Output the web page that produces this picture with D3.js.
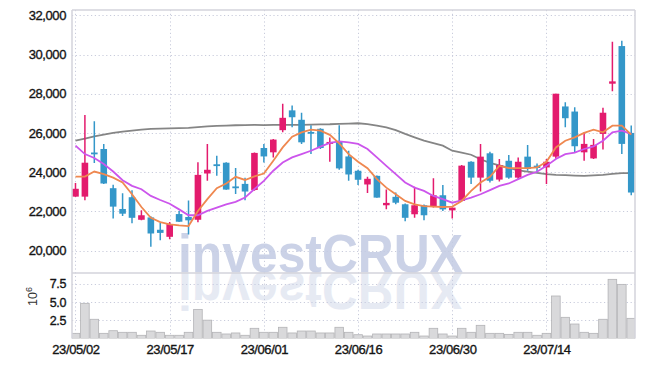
<!DOCTYPE html>
<html>
<head>
<meta charset="UTF-8">
<title>investCRUX - daily candles</title>
<script src="https://cdnjs.cloudflare.com/ajax/libs/d3/7.8.5/d3.min.js"></script>
<style>
  body { margin: 0; background: #fff; }
  svg { display: block; font-family: "Liberation Sans", Arial, sans-serif; }
</style>
</head>
<body>
<script>
// trading days
var dates = ["23/05/02","23/05/03","23/05/04","23/05/08","23/05/09","23/05/10","23/05/11","23/05/12","23/05/15","23/05/16",
  "23/05/17","23/05/18","23/05/19","23/05/22","23/05/23","23/05/24","23/05/25","23/05/26","23/05/30","23/05/31",
  "23/06/01","23/06/02","23/06/05","23/06/07","23/06/08","23/06/09","23/06/12","23/06/13","23/06/14","23/06/15",
  "23/06/16","23/06/19","23/06/20","23/06/21","23/06/22","23/06/23","23/06/26","23/06/27","23/06/28","23/06/29",
  "23/06/30","23/07/03","23/07/04","23/07/05","23/07/06","23/07/07","23/07/10","23/07/11","23/07/12","23/07/13",
  "23/07/14","23/07/17","23/07/18","23/07/19","23/07/20","23/07/21","23/07/24","23/07/25","23/07/26","23/07/27"];

var opens = [22750,22750,25000,25180,23180,22120,22720,21570,21690,21060,
  20700,21860,21710,21570,23930,24400,24480,23270,23400,23090,
  25230,25010,26140,27150,26670,26050,26210,25440,25570,24800,
  24070,23370,23810,22310,22740,22360,21850,22310,22240,22820,
  22050,22530,24530,23720,24960,23620,24580,23720,24790,24330,
  24240,24790,27350,27090,25010,24700,25950,28510,30430,26000];
var highs = [23450,26920,26600,25440,23350,22920,23080,22050,21750,21400,
  21450,22020,22550,24510,25440,24840,24510,24210,23710,25000,
  25440,25690,27490,27400,27030,26390,26240,25760,26390,25090,
  24120,23760,23830,23110,22960,22400,23260,22350,23690,23340,
  22200,24360,24560,25440,25040,24670,24870,24750,25390,24440,
  24670,28000,27560,27310,26030,25690,27280,30650,30700,26380];
var lows = [22750,22560,24460,23400,21640,21760,21390,21550,20190,20530,
  20570,21450,20820,21440,23560,23810,23100,22890,22570,23050,
  24490,24750,26030,26290,25440,24930,25180,24530,24120,23560,
  23340,22930,22690,22100,22360,21500,21670,21540,22190,22020,
  21640,22520,23390,23010,23470,23520,23660,23620,24070,23980,
  23390,24680,26290,25010,24580,24670,25150,28120,24930,22820];
var closes = [23150,24480,24950,23420,22240,21880,21670,21800,20870,20900,
  21350,21470,21540,23860,24120,24350,23110,23230,23010,24980,
  24800,25660,26770,26800,25520,26010,25230,25540,24190,23880,
  23610,23660,22700,22430,22440,21670,22310,21800,22820,22100,
  22190,24330,23720,24790,23560,24360,23720,24530,24160,24210,
  24530,28000,26750,25320,25440,25390,27030,28630,25440,22960];

var volumes = [710000,4830000,2640000,710000,1070000,850000,850000,440000,1030000,850000,
  440000,440000,850000,4000000,2520000,850000,620000,760000,440000,1400000,
  850000,850000,1540000,760000,1030000,1030000,760000,760000,1540000,850000,
  520000,340000,620000,620000,620000,620000,850000,340000,1400000,620000,
  340000,1400000,850000,1810000,710000,710000,570000,850000,850000,440000,
  710000,5840000,2910000,1990000,850000,710000,2640000,8130000,7440000,2770000];

var ma5 = [23770,23770,24030,23900,23720,23470,22870,22220,21670,21450,
  21330,21280,21250,22020,22620,23180,23420,23760,23600,23780,
  23930,24580,25260,25810,26030,26170,26120,25900,25470,24920,
  24530,24200,23640,23210,22870,22530,22360,22270,22240,22220,
  22240,22530,23040,23470,23760,24320,24200,24200,24200,24240,
  24530,25260,25600,25770,26000,26170,26030,26370,26370,25910];
var ma10 = [25350,24920,24720,24410,24030,23590,23300,23130,22785,22580,
  22390,22100,21800,21800,22020,22190,22360,22480,22700,23140,
  23550,24070,24490,24750,24920,25090,25300,25490,25570,25520,
  25440,25180,24750,24320,23900,23470,23210,23040,22785,22620,
  22440,22560,22700,22870,23080,23300,23420,23640,23860,24020,
  24320,24670,24920,25000,25180,25310,25600,26030,26120,25950];
var ma60 = [25605,25710,25825,25913,26000,26067,26118,26169,26205,26220,
  26236,26246,26256,26297,26338,26359,26374,26390,26400,26410,
  26400,26415,26410,26410,26410,26426,26436,26441,26462,26477,
  26492,26451,26374,26287,26144,25949,25774,25605,25477,25349,
  25092,24990,24887,24656,24477,24349,24220,24092,24031,23964,
  23897,23861,23846,23826,23810,23836,23861,23913,23949,23949];

var priceTicks = [20000,22000,24000,26000,28000,30000,32000];
var volTicks = [2.5e6,5e6,7.5e6];
var dateTicks = [0,10,20,30,40,50];

var W = 645, H = 367;
var L = 72, R = 635, T = 10, PB = 272.5, VT = 273, VB = 338.5;
var upColor = "#e31b6d", downColor = "#3497c9";
var gridColor = "#c9ccdc";

var svg = d3.select("body").append("svg")
  .attr("width", W).attr("height", H);

var x = d3.scaleLinear().domain([-0.37, 59.4]).range([L, R]);
var y = d3.scaleLinear().domain([18880, 32270]).range([PB, T]);
var yv = d3.scaleLinear().domain([0, 9.0e6]).range([VB, VT]);

var idx = d3.range(dates.length);

// clip for plot
var defs = svg.append("defs");
defs.append("clipPath").attr("id", "pclip").append("rect")
  .attr("x", L).attr("y", T).attr("width", R - L).attr("height", PB - T);
defs.append("clipPath").attr("id", "vclip").append("rect")
  .attr("x", L).attr("y", VT).attr("width", R - L).attr("height", VB - VT);

// grid
var grid = svg.append("g").attr("stroke", gridColor).attr("stroke-width", 1)
  .attr("stroke-dasharray", "1.2,2.6");
grid.selectAll(".hg").data(priceTicks).enter().append("line")
  .attr("x1", L).attr("x2", R)
  .attr("y1", d => Math.round(y(d)) + 0.5).attr("y2", d => Math.round(y(d)) + 0.5);
grid.selectAll(".vg").data(volTicks).enter().append("line")
  .attr("x1", L).attr("x2", R)
  .attr("y1", d => Math.round(yv(d)) + 0.5).attr("y2", d => Math.round(yv(d)) + 0.5);
grid.selectAll(".xg").data(dateTicks).enter().append("line")
  .attr("y1", T).attr("y2", VB)
  .attr("x1", d => Math.round(x(d)) + 0.5).attr("x2", d => Math.round(x(d)) + 0.5);

// watermark + reflection
var wm = svg.append("g").attr("font-weight", "bold").attr("font-size", 54)
  .attr("font-family", "'Liberation Sans', Arial, sans-serif");
wm.append("text").attr("x", 178).attr("y", 272).text("investCRUX")
  .attr("textLength", 285).attr("lengthAdjust", "spacingAndGlyphs")
  .attr("fill", "#c3cbe3").attr("opacity", 0.85);
wm.append("text").attr("x", 178).attr("y", 272).text("investCRUX")
  .attr("textLength", 285).attr("lengthAdjust", "spacingAndGlyphs")
  .attr("transform", "translate(0,544) scale(1,-1)")
  .attr("fill", "#c3cbe3").attr("opacity", 0.4);

// volume
svg.append("g").attr("clip-path", "url(#vclip)")
  .selectAll("rect").data(idx).enter().append("rect")
  .attr("x", i => x(i) - 4.3)
  .attr("width", 8.6)
  .attr("y", i => yv(volumes[i]))
  .attr("height", i => VB - yv(volumes[i]))
  .attr("fill", "#d9d9db").attr("stroke", "#b3b3b6").attr("stroke-width", 0.8);

// price panel
var plot = svg.append("g").attr("clip-path", "url(#pclip)");

var line = (arr) => d3.line().x(i => x(i)).y(i => y(arr[i]))(idx);

plot.append("path").attr("d", line(ma60)).attr("fill", "none")
  .attr("stroke", "#858585").attr("stroke-width", 1.8);

var candles = plot.selectAll(".c").data(idx).enter().append("g");
candles.append("line")
  .attr("x1", i => x(i)).attr("x2", i => x(i))
  .attr("y1", i => y(highs[i])).attr("y2", i => y(lows[i]))
  .attr("stroke", i => closes[i] >= opens[i] ? upColor : downColor)
  .attr("stroke-width", 1.5);
candles.append("rect")
  .attr("x", i => x(i) - 3.3).attr("width", 6.6)
  .attr("y", i => y(Math.max(opens[i], closes[i])))
  .attr("height", i => Math.max(1.8, Math.abs(y(opens[i]) - y(closes[i]))))
  .attr("fill", i => closes[i] >= opens[i] ? upColor : downColor);

plot.append("path").attr("d", line(ma10)).attr("fill", "none")
  .attr("stroke", "#cc55ec").attr("stroke-width", 1.8);
plot.append("path").attr("d", line(ma5)).attr("fill", "none")
  .attr("stroke", "#ef8850").attr("stroke-width", 1.8);

// frame
var frame = svg.append("g").attr("stroke", "#d3d3db").attr("stroke-width", 1.5).attr("fill", "none");
frame.append("line").attr("x1", L).attr("x2", R).attr("y1", T).attr("y2", T);
frame.append("line").attr("x1", L).attr("x2", R).attr("y1", VT).attr("y2", VT);
frame.append("line").attr("x1", L).attr("x2", L).attr("y1", T).attr("y2", VB);
frame.append("line").attr("x1", R).attr("x2", R).attr("y1", T).attr("y2", VB);

// axes
var yAxis = d3.axisLeft(y).tickValues(priceTicks).tickSize(0).tickPadding(6)
  .tickFormat(d3.format(","));
var gy = svg.append("g").attr("transform", "translate(" + L + ",0)").call(yAxis);
var vAxis = d3.axisLeft(yv).tickValues(volTicks).tickSize(0).tickPadding(6)
  .tickFormat(d => (d / 1e6).toFixed(1));
var gv = svg.append("g").attr("transform", "translate(" + L + ",0)").call(vAxis);
var xAxis = d3.axisBottom(x).tickValues(dateTicks).tickSize(0).tickPadding(5)
  .tickFormat(i => dates[i]);
var gx = svg.append("g").attr("transform", "translate(0," + (VB + 1) + ")").call(xAxis);

[gy, gv, gx].forEach(g => {
  g.select(".domain").remove();
  g.selectAll("text").attr("fill", "#141414").attr("font-size", 13)
    .attr("font-family", "'Liberation Sans', Arial, sans-serif")
    .attr("letter-spacing", "-0.4px")
    .attr("stroke", "#141414").attr("stroke-width", 0.35);
});
gv.selectAll("text").attr("font-size", 12.5);

// 10^6 unit label
var unit = svg.append("text")
  .attr("transform", "translate(37,306) rotate(-90)")
  .attr("fill", "#333").attr("font-size", 12.5)
  .attr("font-family", "'Liberation Sans', Arial, sans-serif");
unit.append("tspan").text("10");
unit.append("tspan").attr("dy", -5).attr("font-size", 9).text("6");
</script>
</body>
</html>
